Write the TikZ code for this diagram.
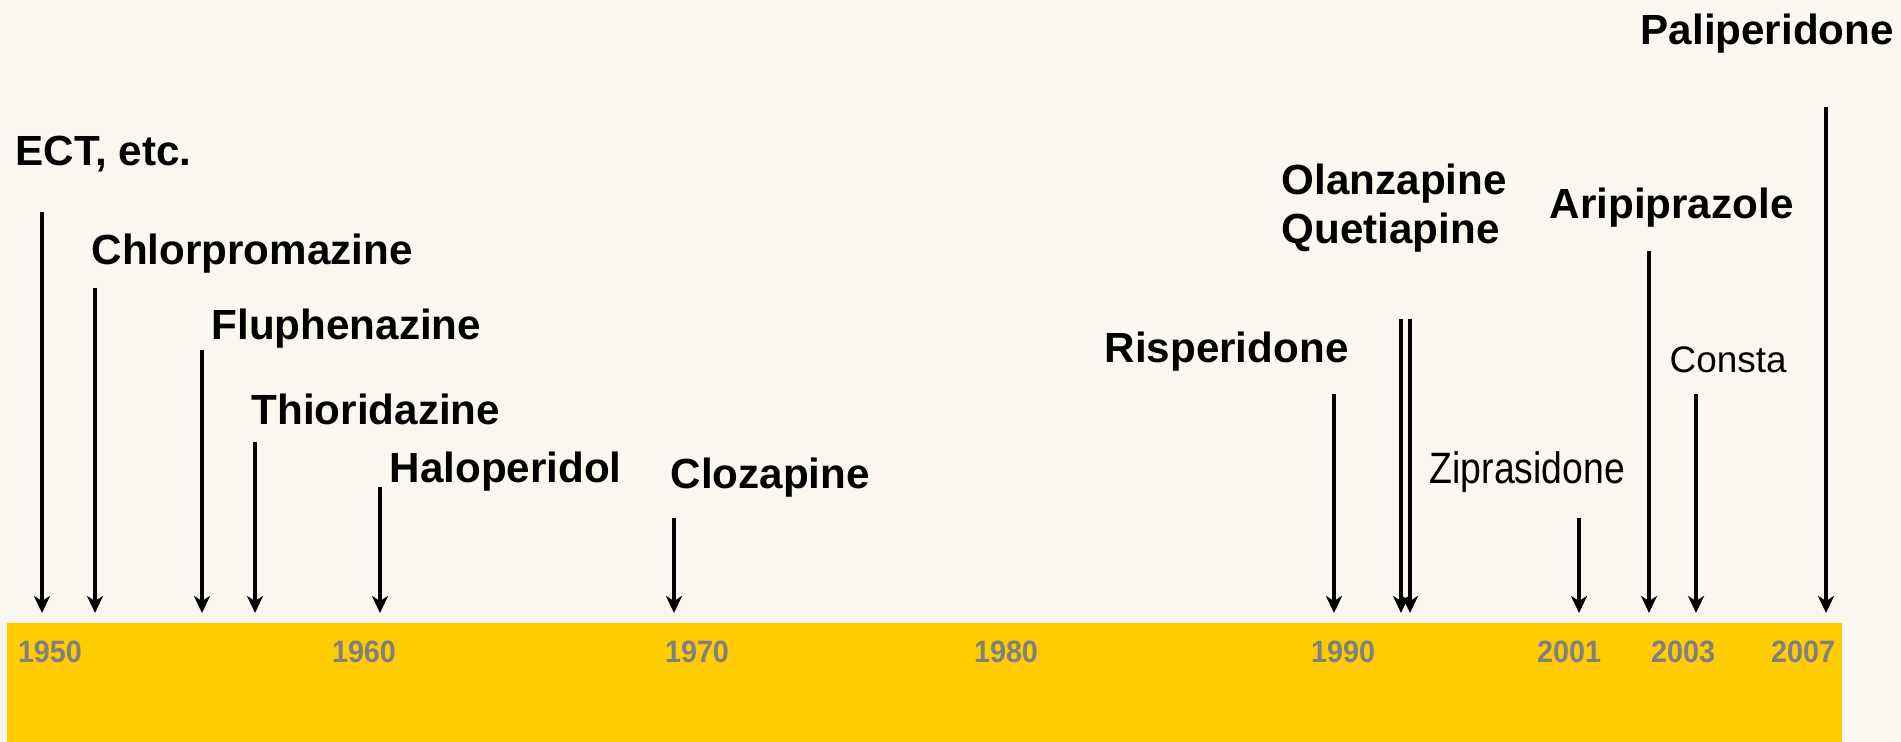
\documentclass[tikz,border=0pt]{standalone}
\usepackage{fontspec}
\setmainfont{Liberation Sans}
\newfontfamily\narrowfont[FakeStretch=0.85]{Liberation Sans}
\newfontfamily\yearfont[FakeStretch=0.93]{Liberation Sans}
\usetikzlibrary{arrows.meta}
\definecolor{paper}{HTML}{F9F7F0}
\definecolor{band}{HTML}{FFCC00}
\definecolor{yeargrey}{HTML}{808080}
\tikzset{
  drug/.style={anchor=base west, inner sep=0pt, font=\fontsize{12}{14}\selectfont\bfseries},
  lightdrug/.style={anchor=base west, inner sep=0pt, font=\fontsize{10.5}{12}\selectfont},
  narrowdrug/.style={anchor=base west, inner sep=0pt, font=\fontsize{12.5}{14}\selectfont\narrowfont},
  year/.style={anchor=base, inner sep=0pt, text=yeargrey, font=\fontsize{8.8}{10}\selectfont\yearfont\bfseries},
  launch/.style={line width=1.2pt, -{Stealth[length=1.7mm, width=1.6mm, inset=0.5mm]}}
}
\newcommand{\launcharrow}[3]{ % #1: name, #2: x-coordinate, #3: top y-coordinate
  \coordinate (#1-top) at (#2,#3);
  \coordinate (#1-tip) at (#2,613);
  \draw[launch] (#1-top) -- (#1-tip); % arrow down to the time band
}

\begin{document}
\begin{tikzpicture}[x=0.1mm, y=-0.1mm]

% Background and bounding box
\useasboundingbox (0,0) rectangle (1901,742);
\fill[paper] (0,0) rectangle (1901,742);

% Time band (yellow)
\fill[band] (7,623) rectangle (1842,742);

% Year labels on the band
\foreach \yr/\xpos in {1950/50, 1960/364, 1970/697, 1980/1006, 1990/1343, 2001/1569, 2003/1683, 2007/1803}
{
    \node[year] (y\yr) at (\xpos,662) {\yr};
}

% Arrows, one per drug
\launcharrow{ect}{42}{212}
\launcharrow{chlor}{95}{288}
\launcharrow{fluph}{202}{350}
\launcharrow{thior}{255}{442}
\launcharrow{halo}{380}{487}
\launcharrow{cloz}{674}{518}
\launcharrow{risp}{1334}{394}
\launcharrow{olanz}{1401}{319}
\launcharrow{quet}{1410}{319}
\launcharrow{zipra}{1579}{518}
\launcharrow{arip}{1649}{251}
\launcharrow{consta}{1696}{394}
\launcharrow{pali}{1826}{107}

% Drug labels
\node[drug] (ectlabel) at (15,166) {ECT, etc.};
\node[drug] (chlorlabel) at (91,265) {Chlorpromazine};
\node[drug] (fluphlabel) at (211,340) {Fluphenazine};
\node[drug] (thiorlabel) at (251,425) {Thioridazine};
\node[drug] (halolabel) at (389,483) {Haloperidol};
\node[drug] (clozlabel) at (670,489) {Clozapine};
\node[drug] (risplabel) at (1104,363) {Risperidone};
\node[drug] (olanzlabel) at (1281,195) {Olanzapine};
\node[drug] (quetlabel) at (1281,244) {Quetiapine};
\node[narrowdrug] (ziprlabel) at (1429,484) {Ziprasidone};
\node[drug] (ariplabel) at (1549,219) {Aripiprazole};
\node[lightdrug] (constalabel) at (1669,373) {Consta};
\node[drug] (palilabel) at (1640,45) {Paliperidone};

\end{tikzpicture}
\end{document}
